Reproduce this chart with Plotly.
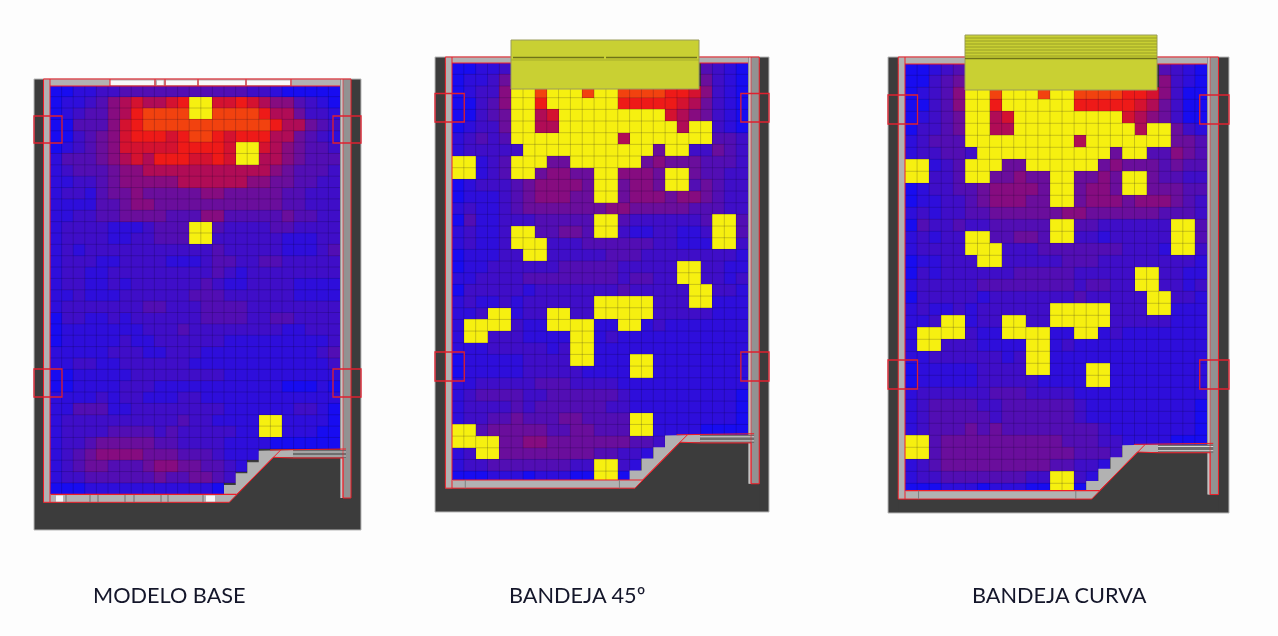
import plotly.graph_objects as go

W, H = 1278, 636

# Heat levels: 0 blue ... 9 orange, Y = yellow cell, . = hidden cell
BASE_ROWS = [
 "00112 23333 33333 33221 00000",
 "01123 56766 78YY7 78765 53210",
 "01233 56899 99YY9 99986 64221",
 "00333 57899 99999 99998 66432",
 "00234 57888 78998 78886 64321",
 "01234 57777 78888 7YY76 54332",
 "13334 56768 88778 7YY66 54333",
 "12333 45566 66666 66665 43332",
 "11223 45555 56666 66554 43322",
 "12213 44544 44455 44444 33222",
 "11113 34554 44444 44444 33222",
 "11223 34444 33355 33333 43322",
 "12222 11123 33YY3 22223 32222",
 "12222 11223 33YY2 22222 11122",
 "12122 22222 22223 22222 11123",
 "12221 12222 11123 32233 22222",
 "12211 22222 22223 21222 22222",
 "12211 21222 22232 11222 21111",
 "11211 12222 22333 22222 21111",
 "12222 22233 22233 33222 22222",
 "02211 21222 22233 33223 32222",
 "01111 11122 23222 22222 11222",
 "01111 12112 22222 11111 11112",
 "11111 22211 22211 11111 11123",
 "11221 12222 22111 11111 11112",
 "00111 11222 22222 11111 11111",
 "00111 12221 11111 11111 00010",
 "11112 12211 12211 11111 11111",
 "11333 11222 22222 11111 12210",
 "12222 22222 23221 111YY 11110",
 "12222 33332 32222 211YY 11100",
 "12234 44443 32222 11110 00000",
 "12345 55544 43332 111.. .....",
 "12344 33345 54433 21... .....",
 "12233 33334 33443 2.... .....",
 "00011 11111 11110 ..... .....",
]

TRAY45_ROWS = [
 "00112 ..... ..... ..... .3210",
 "01124 ..... ..... ..... .4210",
 "01225 YY9YY Y9YY9 99988 75210",
 "00235 YY8YY YYYY8 88887 64210",
 "00234 YY67Y YYYYY YYY76 54210",
 "01224 YY66Y YYYYY YYYY6 YY210",
 "12323 YYYYY YYYY6 YYYYY YY332",
 "12222 2YYYY YYYYY YY4YY 22432",
 "YY123 YYY44 YYYYY Y4544 43332",
 "YY123 YY455 44YY5 554YY 43322",
 "01222 34555 54YY4 554YY 34322",
 "01112 34555 44YY4 55545 54322",
 "12112 34444 44455 44444 33322",
 "03112 22333 33YY3 22222 23YY3",
 "12112 YY334 43YY2 11221 12YY3",
 "12112 YYY22 23333 33221 11YY2",
 "01112 2YY22 22233 32222 22221",
 "01122 22223 33332 2222Y Y2211",
 "11222 23333 33332 3322Y Y2212",
 "02222 21222 22223 22222 YY221",
 "12112 12222 22YYY YY222 YY111",
 "112YY 122YY 22YYY YY222 22111",
 "1YYYY 211YY YY11Y Y1211 11111",
 "1YY22 21111 YY121 11111 11111",
 "11122 22212 YY111 11111 11111",
 "01111 12222 YY111 YY111 11111",
 "01111 12222 21111 YY111 11111",
 "11222 22333 22221 11111 11111",
 "12333 32233 33332 11111 11110",
 "12222 32333 33322 11111 11110",
 "12233 43334 43333 YY111 11110",
 "YY344 44433 44333 YY111 10000",
 "YYYY4 45544 44444 332.. .....",
 "12YY4 44444 44332 21... .....",
 "12233 33333 22YY2 1.... .....",
 "00011 10111 00YY0 ..... .....",
]

CURVED_ROWS = [
 "00123 ..... ..... ..... .3210",
 "00234 ..... ..... ..... .5210",
 "01235 YY9YY Y9YY9 99988 75200",
 "00235 YY8YY YYYY8 88887 64200",
 "01234 YY67Y YYYYY YYY76 54200",
 "02234 YY66Y YYYYY YYYY6 YY421",
 "12333 YYYYY YYYY6 YYYYY YY443",
 "12233 2YYYY YYYYY YY4YY 33543",
 "YY123 YYY44 YYYYY Y4544 43433",
 "YY223 YY445 44YY4 454YY 43322",
 "01223 34555 54YY4 554YY 44433",
 "01122 34555 44YY4 55545 55432",
 "12122 33444 44455 44444 43332",
 "03223 22333 33YY3 32222 22YY3",
 "12122 YY334 43YY2 21222 22YY3",
 "12222 YYY22 23333 33322 21YY2",
 "01122 2YY22 22233 32222 22221",
 "02122 22223 33332 2222Y Y2211",
 "12222 23333 33332 3322Y Y2212",
 "02222 21222 22223 22222 YY221",
 "12112 12222 22YYY YY222 YY111",
 "112YY 122YY 22YYY YY222 22111",
 "1YYYY 211YY YY11Y Y1211 11111",
 "1YY22 21111 YY121 11111 11111",
 "11222 22212 YY111 11111 11111",
 "01111 12222 YY111 YY111 11111",
 "01111 12222 21111 YY111 11111",
 "12222 22333 22221 11111 11111",
 "12333 32233 33332 11111 11110",
 "12333 33233 33332 11111 11110",
 "12333 43433 33333 32111 11110",
 "YY344 44444 44433 32211 11000",
 "YY344 44444 44443 332.. .....",
 "12344 44444 44332 21... .....",
 "12233 33333 22YY2 1.... .....",
 "00011 10111 00YY0 ..... .....",
]

TITLES = ["MODELO BASE", "BANDEJA 45º", "BANDEJA CURVA"]

LEVEL_COLORS = ["#180cf0", "#2e0edb", "#3f0ec8", "#520eb4", "#6a0e9c", "#860c80",
                "#b00c56", "#d41230", "#ee1a18", "#f2420f", "#f6f010"]


def parse(rows):
    out = []
    for r in rows:
        s = r.replace(" ", "")
        out.append([None if c == "." else 10 if c == "Y" else int(c) for c in s])
    return out


scale = []
n = len(LEVEL_COLORS)
for i, c in enumerate(LEVEL_COLORS):
    scale += [[i / n, c], [(i + 1) / n, c]]

# panel geometry in page pixels
PANELS = [
    dict(rows=BASE_ROWS, x0=50.0, x1=340.0, y0=85.3, dy=11.36, top=86.0, bot=494.3,
         ox0=34, ox1=361, oy0=79, oy1=530, boxes=[(116, 143), (369, 397)]),
    dict(rows=TRAY45_ROWS, x0=452.0, x1=748.0, y0=62.67, dy=11.67, top=63.0, bot=480.0,
         ox0=435, ox1=769, oy0=57, oy1=512, boxes=[(93.5, 122), (352, 381)]),
    dict(rows=CURVED_ROWS, x0=905.0, x1=1207.0, y0=63.3, dy=12.0, top=64.0, bot=490.7,
         ox0=888, ox1=1229, oy0=57, oy1=513, boxes=[(95, 124), (360, 389)]),
]

fig = go.Figure()
shapes = []


def px(x): return x / W
def py(y): return 1 - y / H


def rect(x0, y0, x1, y1, fill=None, line=None, lw=1, layer="above"):
    shapes.append(dict(type="rect", xref="paper", yref="paper", x0=px(x0), x1=px(x1),
                       y0=py(y0), y1=py(y1), fillcolor=fill or "rgba(0,0,0,0)",
                       line=dict(color=line or "rgba(0,0,0,0)", width=lw if line else 0),
                       layer=layer))


def seg(x0, y0, x1, y1, color, lw=1):
    shapes.append(dict(type="line", xref="paper", yref="paper", x0=px(x0), x1=px(x1),
                       y0=py(y0), y1=py(y1), line=dict(color=color, width=lw), layer="above"))


def poly(points, fill=None, line=None, lw=1):
    d = "M " + " L ".join(f"{px(a):.5f},{py(b):.5f}" for a, b in points) + " Z"
    shapes.append(dict(type="path", xref="paper", yref="paper", path=d,
                       fillcolor=fill or "rgba(0,0,0,0)",
                       line=dict(color=line or "rgba(0,0,0,0)", width=lw if line else 0),
                       layer="above"))


RED = "#f01e28"
DARK = "#3c3c3c"
GREY = "#b2b2b2"
GREY2 = "#929292"

for idx, p in enumerate(PANELS):
    suffix = "" if idx == 0 else str(idx + 1)
    rows = parse(p["rows"])
    nr, nc = len(rows), len(rows[0])
    y1 = p["y0"] + nr * p["dy"]
    fig.add_trace(go.Heatmap(
        z=rows, x=[c + 0.5 for c in range(nc)], y=[r + 0.5 for r in range(nr)],
        zmin=-0.5, zmax=n - 0.5, colorscale=scale, showscale=False, hoverongaps=False,
        xaxis="x" + suffix, yaxis="y" + suffix))
    common = dict(showgrid=False, zeroline=False, showticklabels=False, ticks="", visible=False)
    fig.layout["xaxis" + suffix] = dict(domain=[px(p["x0"]), px(p["x1"])], range=[0, nc],
                                        anchor="y" + suffix, **common)
    fig.layout["yaxis" + suffix] = dict(domain=[py(y1), py(p["y0"])], range=[nr, 0],
                                        anchor="x" + suffix, **common)
    # grid drawn over the cells
    grid = "rgba(10,0,40,0.20)"
    for c in range(1, nc):
        shapes.append(dict(type="line", xref="x" + suffix, yref="y" + suffix, x0=c, x1=c, y0=0, y1=nr,
                           line=dict(color=grid, width=1), layer="above"))
    for r in range(1, nr):
        shapes.append(dict(type="line", xref="x" + suffix, yref="y" + suffix, x0=0, x1=nc, y0=r, y1=r,
                           line=dict(color=grid, width=1), layer="above"))

    # dark frame behind the map
    rect(p["ox0"], p["oy0"], p["ox1"], p["oy1"], fill=DARK, line="#b8b8b8", lw=1, layer="below")

    sx = (p["x1"] - p["x0"]) / 290.0
    sy = (p["bot"] - p["top"]) / 408.3

    def X(v): return p["x0"] + (v - 50.0) * sx
    def Y(v): return p["top"] + (v - 86.0) * sy

    # dark ground covering the corner and the strip under the floor
    poly([(X(229.3), Y(502.3)), (X(273.3), Y(457.3)), (X(351), Y(457.3)), (X(351), p["oy1"] - 1),
          (X(43.5), p["oy1"] - 1), (X(43.5), Y(502.3))], fill=DARK)

    # left, top, bottom and right walls
    rect(X(43.5), p["oy0"], X(50), Y(502.3), fill=GREY)
    rect(X(43.5), p["oy0"], X(351), Y(86), fill=GREY)
    rect(X(43.5), Y(494.3), X(229.3), Y(502.3), fill=GREY)
    rect(X(340), p["oy0"], X(351), Y(498), fill=GREY2)
    rect(X(341), p["oy0"], X(343), Y(498), fill="#c4c4c4")

    stairs = [(224, 494.3), (224, 485), (235.7, 485), (235.7, 473.3), (247.3, 473.3), (247.3, 462.3),
              (258.7, 462.3), (258.7, 450.7), (293.3, 450), (293.3, 457.3), (273.3, 457.3), (229.3, 502.3)]
    poly([(X(a), Y(b)) for a, b in stairs], fill=GREY)

    # glazed strip at the right of the chamfer
    rect(X(293), Y(450), X(346), Y(458), fill="#6e6e6e")
    seg(X(293), Y(452), X(346), Y(452), "#d8d8d8", 1)
    seg(X(293), Y(456), X(346), Y(456), "#d8d8d8", 1)

    # red outlines
    poly([(X(43.5), p["oy0"]), (X(351), p["oy0"]), (X(351), Y(498)), (X(343), Y(498)), (X(343), Y(458)),
          (X(293), Y(458)), (X(273.3), Y(457.3)), (X(229.3), Y(502.3)), (X(43.5), Y(502.3))], line=RED, lw=1)
    seg(X(51), Y(494.3), X(236.7), Y(494.3), RED, 1.2)
    seg(X(236.7), Y(494.3), X(280.7), Y(450), RED, 1)
    seg(X(270), Y(450), X(346), Y(449), RED, 1)
    seg(X(50), p["oy0"], X(50), Y(502.3), RED, 1)
    seg(X(343), p["oy0"], X(343), Y(498), "rgba(240,30,40,.6)", 1)
    seg(X(50), Y(86), X(340), Y(86), RED, 1)
    for top, bottom in p["boxes"]:
        rect(p["ox0"], top, X(62), bottom, line="#e0202f", lw=1.3)
        rect(X(333), top, p["ox1"], bottom, line="#e0202f", lw=1.3)

    if idx == 0:
        # top and bottom windows of the base model
        for a, b in [(110, 154), (157, 163.5), (166, 197), (199, 245), (247, 290)]:
            rect(a, 80.5, b, 85, fill="#f8f8f8")
        for a in [110, 155, 165, 198, 246, 291]:
            seg(a, 79, a, 86, RED, 1)
        for a, b in [(56, 63), (206, 215)]:
            rect(a, 495.5, b, 501.5, fill="#f6f6f6")
        for a in [66, 90, 98, 125, 134, 161, 168, 203]:
            seg(a, 495, a, 502, "#707070", 1)
    else:
        for a in [X(63)]:
            seg(a, Y(494.3), a, Y(502.3), "#808080", 1)
        seg(X(214), Y(494.3), X(214), Y(502.3), "#808080", 1)

TRAY = "#c9d033"
TRAY_D = "#6f7318"
# tray over the second panel
rect(511, 40, 699, 89, fill=TRAY, line="#9a9c5a")
seg(513, 57.5, 604, 57.5, TRAY_D, 1.5)
seg(606, 57.5, 697, 57.5, TRAY_D, 1.5)
seg(511, 60, 699, 60, "#a8ad2c", 1)
# tray over the third panel
rect(965, 35, 1157, 90, fill=TRAY, line="#9a9c5a")
for yy in [38, 41, 44, 47, 50, 53, 56]:
    seg(965, yy, 1157, yy, "#9aa028", 1)
seg(965, 58.5, 1157, 58.5, TRAY_D, 1.5)

annotations = []
for title, xpos in zip(TITLES, [91, 507, 970]):
    annotations.append(dict(text=title, xref="paper", yref="paper", x=px(xpos), y=py(594.5),
                            xanchor="left", yanchor="middle", showarrow=False,
                            font=dict(family="Lato", size=21.7, color="#14162a")))

fig.update_layout(width=W, height=H, margin=dict(l=0, r=0, t=0, b=0), autosize=False,
                  paper_bgcolor="#fdfdfd", plot_bgcolor="rgba(0,0,0,0)", showlegend=False,
                  shapes=shapes, annotations=annotations)
fig.write_html("out.html", config={"displayModeBar": False},
               post_script="document.body.style.margin='0';"
                           "document.querySelector('.plot-container').style.filter='blur(0.5px)';")
